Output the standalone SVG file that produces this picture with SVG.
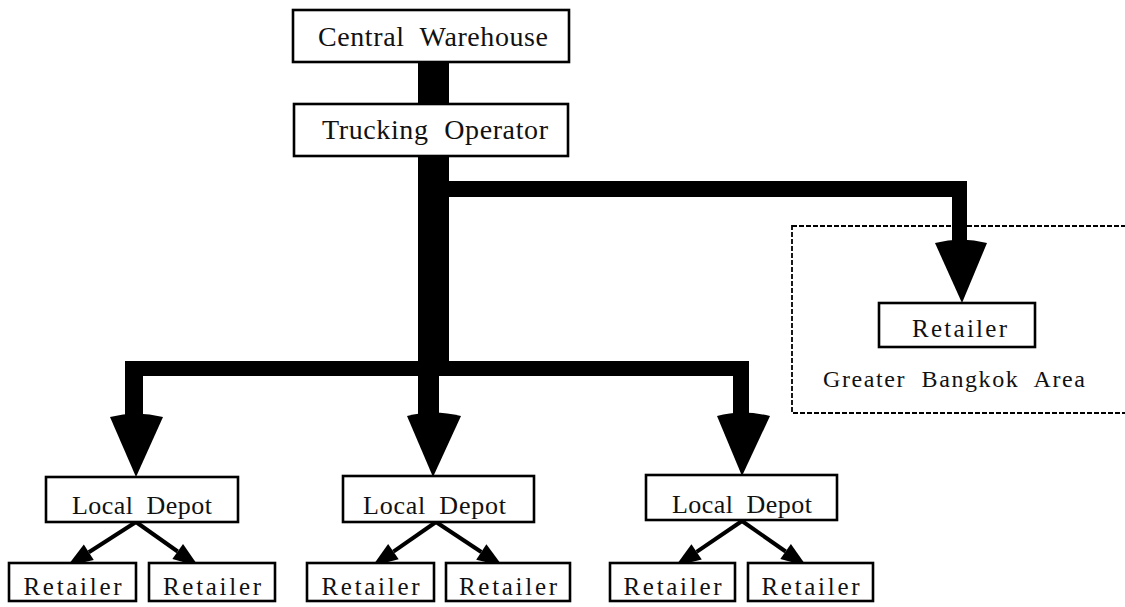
<svg xmlns="http://www.w3.org/2000/svg" width="1125" height="607" viewBox="0 0 1125 607">
<style>
.box{fill:#fff;stroke:#000;stroke-width:2.6}
.t{font-family:"Liberation Serif","Times New Roman",serif;fill:#111;text-anchor:middle}
.big{font-size:28px;word-spacing:8px}
.mid{font-size:26px;word-spacing:6px}
.sm{font-size:25px}
.bar{fill:#000}
.thin{stroke:#000;stroke-width:4;fill:none;marker-end:url(#ah)}
.dash{fill:none;stroke:#000;stroke-width:1.8;stroke-dasharray:5 2}
</style>
<defs>
<marker id="ah" markerUnits="userSpaceOnUse" markerWidth="30" markerHeight="30" refX="0" refY="0" orient="auto" viewBox="-2 -12 26 24" overflow="visible">
<path d="M0,-8 L22,0 L0,8 Z" fill="#000"/>
</marker>
</defs>
<rect id="area" class="dash" x="792" y="226" width="340" height="187"/>
<g id="connectors">
<rect class="bar" x="418" y="60" width="31" height="46"/>
<rect class="bar" x="418" y="154" width="31" height="222"/>
<path class="bar" d="M449,181 H967 V244 H952 V197 H449 Z"/>
<rect class="bar" x="125" y="361" width="624" height="15"/>
<rect class="bar" x="125" y="361" width="18" height="56"/>
<rect class="bar" x="418" y="370" width="21" height="47"/>
<rect class="bar" x="733" y="361" width="16" height="56"/>
<path class="bar" d="M110,417 Q136,410 163,417 L136,477 Z"/>
<path class="bar" d="M407,416 Q433,409 461,416 L433,477 Z"/>
<path class="bar" d="M717,416 Q742,409 770,416 L742,476 Z"/>
<path class="bar" d="M935,243 Q961,236 987,243 L962,303 Z"/>
<line class="thin" x1="136" y1="522" x2="88.8" y2="552.2"/>
<line class="thin" x1="136" y1="522" x2="177.7" y2="551.5"/>
<line class="thin" x1="436" y1="522" x2="393.4" y2="551.6"/>
<line class="thin" x1="436" y1="522" x2="481.3" y2="552"/>
<line class="thin" x1="742" y1="521" x2="696.6" y2="551.8"/>
<line class="thin" x1="742" y1="521" x2="785.6" y2="551.5"/>
</g>
<g id="central-warehouse">
<rect class="box" x="293" y="10" width="276" height="52"/>
<text class="t big" x="433" y="46" textLength="230" lengthAdjust="spacing">Central Warehouse</text>
</g>
<g id="trucking-operator">
<rect class="box" x="294" y="104" width="274" height="52"/>
<text class="t big" x="435" y="139" textLength="226" lengthAdjust="spacing">Trucking Operator</text>
</g>
<g id="retailer-bangkok">
<rect class="box" x="879" y="303" width="156" height="44"/>
<text class="t sm" x="959.5" y="337" textLength="95" lengthAdjust="spacing">Retailer</text>
</g>
<g id="area-label">
<text class="t" style="font-size:24px;word-spacing:8px" x="954" y="387" textLength="262" lengthAdjust="spacing">Greater Bangkok Area</text>
</g>
<g id="depot-1">
<rect class="box" x="46" y="477" width="192" height="45"/>
<text class="t mid" x="142" y="514" textLength="140" lengthAdjust="spacing">Local Depot</text>
</g>
<g id="depot-2">
<rect class="box" x="343" y="476" width="191" height="46"/>
<text class="t mid" x="434.5" y="514" textLength="143" lengthAdjust="spacing">Local Depot</text>
</g>
<g id="depot-3">
<rect class="box" x="646" y="475" width="191" height="45"/>
<text class="t mid" x="742" y="513" textLength="140" lengthAdjust="spacing">Local Depot</text>
</g>
<g id="retailer-1">
<rect class="box" x="9" y="563" width="127" height="38"/>
<text class="t sm" x="72.5" y="595" textLength="98" lengthAdjust="spacing">Retailer</text>
</g>
<g id="retailer-2">
<rect class="box" x="149" y="563" width="126" height="38"/>
<text class="t sm" x="212" y="595" textLength="98" lengthAdjust="spacing">Retailer</text>
</g>
<g id="retailer-3">
<rect class="box" x="307" y="563" width="127" height="38"/>
<text class="t sm" x="370.5" y="595" textLength="98" lengthAdjust="spacing">Retailer</text>
</g>
<g id="retailer-4">
<rect class="box" x="446" y="563" width="124" height="38"/>
<text class="t sm" x="508" y="595" textLength="98" lengthAdjust="spacing">Retailer</text>
</g>
<g id="retailer-5">
<rect class="box" x="610" y="563" width="125" height="38"/>
<text class="t sm" x="672.5" y="595" textLength="98" lengthAdjust="spacing">Retailer</text>
</g>
<g id="retailer-6">
<rect class="box" x="748" y="563" width="125" height="38"/>
<text class="t sm" x="810.5" y="595" textLength="98" lengthAdjust="spacing">Retailer</text>
</g>
</svg>
